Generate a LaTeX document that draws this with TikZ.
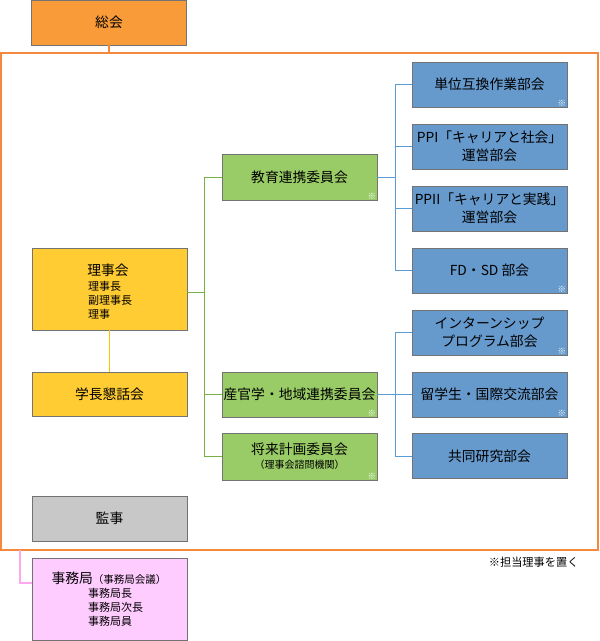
\documentclass[tikz,border=0pt]{standalone}
\usepackage{fontspec}
\setmainfont{Noto Sans CJK JP}
\begin{document}
\begin{tikzpicture}[x=1pt,y=-1pt,
  box/.style={draw=black!55,line width=0.8pt,minimum width=155pt,inner sep=0pt,align=center,font=\fontsize{13.8}{18}\selectfont},
  obox/.style={box,fill=orange1,minimum height=45pt},
  ybox/.style={box,fill=yellow1},
  gbox/.style={box,fill=green1,minimum height=46pt},
  bbox/.style={box,fill=blue1,minimum height=45pt},
  kbox/.style={box,fill=gray1,minimum height=45pt},
  pbox/.style={box,fill=pink1},
  gline/.style={draw=greenline,line width=1pt},
  bline/.style={draw=blueline,line width=1pt},
  kome/.style={font=\fontsize{8.5}{8.5}\selectfont,text=white,inner sep=1pt,anchor=south east},
  sub/.style={font=\fontsize{11}{13.8}\selectfont}
]
\definecolor{orange1}{HTML}{F99B38}
\definecolor{orangeline}{HTML}{F4883C}
\definecolor{yellow1}{HTML}{FFCC33}
\definecolor{yellowline}{HTML}{F9C400}
\definecolor{green1}{HTML}{99CC66}
\definecolor{greenline}{HTML}{77B043}
\definecolor{blue1}{HTML}{6699CC}
\definecolor{blueline}{HTML}{5B9BD5}
\definecolor{gray1}{HTML}{C8C8C8}
\definecolor{pink1}{HTML}{FFCCFF}
\definecolor{pinkline}{HTML}{FFA8EE}
\useasboundingbox (0,0) rectangle (600,641);

% frame
\draw[draw=orangeline,line width=1.2pt] (1,53) rectangle (598,550);
\coordinate (ftop) at (109,53);

\node[obox] (sokai) at (109,22.5) {総会};
\draw[draw=orangeline,line width=1.2pt] (sokai.south) -- (ftop);

% left column
\node[ybox,minimum height=82pt] (rijikai) at (109.5,289) {};
\node at (108,270) {\fontsize{13.8}{16}\selectfont 理事会};
\node[sub,align=left,anchor=north west,inner sep=0pt] (rijisub) at (88,281.5) {理事長\\副理事長\\理事};
\node[ybox,minimum height=44pt] (gakucho) at (109.5,394) {学長懇話会};
\draw[draw=yellowline,line width=1.5pt] (rijikai.south) -- (gakucho.north);

\node[kbox] (kanji) at (109.5,518.5) {監事};
\node[pbox,minimum height=82pt] (jimu) at (109.5,599) {};
\node at (109,578) {\fontsize{13.8}{16}\selectfont 事務局\fontsize{10.5}{12}\selectfont（事務局会議）};
\node[sub,align=left,anchor=north west,inner sep=0pt] at (88,588.5) {事務局長\\事務局次長\\事務局員};
\coordinate (pk1) at (20,550);
\coordinate (pk2) at (20,583);
\draw[draw=pinkline,line width=1.3pt] (pk1) -- (pk2) -- (jimu.west |- pk2);

% committees
\node[gbox] (kyoiku) at (299.5,177.5) {教育連携委員会};
\node[gbox,minimum height=45pt] (sankan) at (299.5,394.5) {産官学・地域連携委員会};
\node[gbox,minimum height=47pt] (shorai) at (299.5,456.5) {将来計画委員会\\[-4pt]{\fontsize{10}{11}\selectfont （理事会諮問機関）}};
\foreach \n in {kyoiku,sankan,shorai} \node[kome] at (\n.south east) {※};

\coordinate (gv) at (204,177.5);
\coordinate (gv2) at (204,456.5);
\coordinate (gmid) at (204,292);
\draw[gline] (rijikai.east |- gmid) -- (gmid);
\draw[gline] (kyoiku.west) -- (gv) -- (gv2) -- (shorai.west);
\draw[gline] (sankan.west) -- (sankan.west -| gv);

% subcommittees
\node[bbox] (tani) at (489.5,84.5) {単位互換作業部会};
\node[bbox] (ppi) at (489.5,146.5) {PPI「キャリアと社会」\\運営部会};
\node[bbox] (ppii) at (489.5,208.5) {PPII「キャリアと実践」\\運営部会};
\node[bbox] (fdsd) at (489.5,270.5) {FD・SD 部会};
\node[bbox] (intern) at (489.5,332.5) {インターンシップ\\プログラム部会};
\node[bbox] (ryu) at (489.5,394.5) {留学生・国際交流部会};
\node[bbox] (kyodo) at (489.5,456) {共同研究部会};
\foreach \n in {tani,fdsd,intern,ryu} \node[kome] at (\n.south east) {※};

\coordinate (bv1) at (395,84.5);
\coordinate (bv2) at (395,270.5);
\draw[bline] (tani.west) -- (bv1) -- (bv2) -- (fdsd.west);
\draw[bline] (ppi.west) -- (ppi.west -| bv1);
\draw[bline] (ppii.west) -- (ppii.west -| bv1);
\draw[bline] (kyoiku.east) -- (kyoiku.east -| bv1);

\coordinate (bv3) at (395,332.5);
\coordinate (bv4) at (395,456);
\draw[bline] (intern.west) -- (bv3) -- (bv4) -- (kyodo.west);
\draw[bline] (ryu.west) -- (ryu.west -| bv3);
\draw[bline] (sankan.east) -- (sankan.east -| bv3);

\node[font=\fontsize{11.2}{13}\selectfont,anchor=east] (note) at (582,562) {※担当理事を置く};
\end{tikzpicture}
\end{document}
